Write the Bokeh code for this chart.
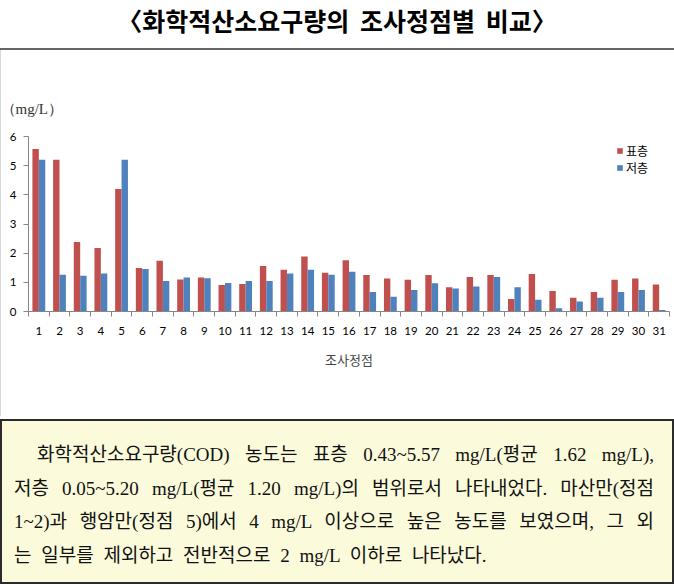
from bokeh.plotting import figure
from bokeh.models import ColumnDataSource, FixedTicker, Legend, LegendItem, Div
from bokeh.layouts import column
from bokeh.embed import file_html
from bokeh.resources import INLINE

# COD by survey station (mg/L)
stations = list(range(1, 32))
surface = [5.57, 5.20, 2.38, 2.18, 4.20, 1.49, 1.74, 1.10, 1.17, 0.91,
           0.94, 1.56, 1.43, 1.89, 1.33, 1.76, 1.25, 1.13, 1.09, 1.25,
           0.83, 1.18, 1.25, 0.43, 1.29, 0.70, 0.47, 0.67, 1.09, 1.13, 0.93]
bottom = [5.20, 1.26, 1.23, 1.30, 5.20, 1.46, 1.05, 1.17, 1.14, 0.98,
          1.05, 1.05, 1.30, 1.43, 1.26, 1.36, 0.67, 0.51, 0.74, 0.97,
          0.79, 0.86, 1.18, 0.83, 0.40, 0.11, 0.34, 0.47, 0.67, 0.74, 0.05]
y_ticks = [0, 1, 2, 3, 4, 5, 6]

RED = "#C0504D"
BLUE = "#4F81BD"
KR = "Noto Sans CJK KR"

src = ColumnDataSource(dict(
    x_s=[s - 0.155 for s in stations],
    x_b=[s + 0.155 for s in stations],
    surface=surface,
    bottom=bottom,
))

title = Div(
    text=('<div style="width:674px;height:50px;box-sizing:border-box;'
          'border-bottom:2px solid #666;text-align:center;'
          f'font-family:\'{KR}\';font-weight:bold;font-size:25px;'
          'word-spacing:5px;line-height:40px;color:#000;">'
          '〈화학적산소요구량의 조사정점별 비교〉</div>'),
    width=674, height=50, margin=(0, 0, 0, 0),
)

p = figure(width=674, height=366, x_range=(0.5, 31.5), y_range=(0, 6),
           output_backend="svg", toolbar_location=None,
           min_border_left=27, min_border_right=6,
           min_border_top=86, min_border_bottom=105,
           margin=(0, 0, 0, 0))
p.outline_line_color = None
p.xgrid.grid_line_color = None
p.ygrid.grid_line_color = None
p.styles = {"border-left": "1px solid #d8d8d8"}

r_s = p.vbar(x="x_s", top="surface", width=0.31, source=src,
             fill_color=RED, line_color=None)
r_b = p.vbar(x="x_b", top="bottom", width=0.31, source=src,
             fill_color=BLUE, line_color=None)

# y axis
p.yaxis.ticker = FixedTicker(ticks=y_ticks)
p.yaxis.axis_line_color = "#868686"
p.yaxis.major_tick_line_color = "#868686"
p.yaxis.major_tick_out = 5
p.yaxis.major_tick_in = 0
p.yaxis.minor_tick_line_color = None
p.yaxis.major_label_text_font = "Lato"
p.yaxis.major_label_text_font_size = "11.5px"
p.yaxis.major_label_text_color = "#000000"
p.yaxis.major_label_standoff = 7

# x axis: labels at stations, tick marks between categories
p.xaxis.ticker = FixedTicker(ticks=stations,
                             minor_ticks=[s + 0.5 for s in range(0, 32)])
p.xaxis.axis_line_color = "#868686"
p.xaxis.major_tick_line_color = None
p.xaxis.minor_tick_line_color = "#868686"
p.xaxis.minor_tick_out = 5
p.xaxis.minor_tick_in = 0
p.xaxis.major_label_text_font = "Lato"
p.xaxis.major_label_text_font_size = "11.5px"
p.xaxis.major_label_text_color = "#000000"
p.xaxis.major_label_standoff = 9
p.xaxis.axis_label = "조사정점"
p.xaxis.axis_label_text_font = KR
p.xaxis.axis_label_text_font_style = "normal"
p.xaxis.axis_label_text_font_size = "13px"
p.xaxis.axis_label_standoff = 12

# unit label above the y axis
p.title.text = "（mg/L）"
p.title.text_font = "Liberation Serif"
p.title.text_font_style = "normal"
p.title.text_font_size = "15px"
p.title.text_color = "#333333"
p.title.align = "left"
p.title.offset = -28
p.title.standoff = 40

legend = Legend(items=[LegendItem(label="표층", renderers=[r_s]),
                       LegendItem(label="저층", renderers=[r_b])],
                location=(588, 135))
legend.border_line_color = None
legend.background_fill_alpha = 0
legend.glyph_width = 7
legend.glyph_height = 7
legend.label_height = 13
legend.label_standoff = 3
legend.spacing = 0
legend.padding = 0
legend.margin = 0
legend.label_text_font = KR
legend.label_text_font_size = "12px"
legend.label_text_color = "#000000"
p.add_layout(legend)

lines = [
    "화학적산소요구량(COD) 농도는 표층 0.43~5.57 mg/L(평균 1.62 mg/L),",
    "저층 0.05~5.20 mg/L(평균 1.20 mg/L)의 범위로서 나타내었다. 마산만(정점",
    "1~2)과 행암만(정점 5)에서 4 mg/L 이상으로 높은 농도를 보였으며, 그 외",
    "는 일부를 제외하고 전반적으로 2 mg/L 이하로 나타났다.",
]
rows = []
for i, ln in enumerate(lines):
    last = "justify" if i < len(lines) - 1 else "left"
    indent = "23px" if i == 0 else "0"
    rows.append(f'<div style="text-align:justify;text-align-last:{last};'
                f'text-indent:{indent};white-space:nowrap;">{ln}</div>')

note = Div(
    text=('<div style="width:674px;height:165px;box-sizing:border-box;'
          'margin-top:3px;border:2px solid #2b2b2b;background:#FBFBDC;'
          'padding:17px 18px 0 12px;'
          f'font-family:\'Liberation Serif\',\'{KR}\';font-size:19px;'
          'letter-spacing:0px;word-spacing:5px;'
          'line-height:33.5px;color:#111;">' + "".join(rows) + '</div>'),
    width=674, height=171, margin=(0, 0, 0, 0),
)

layout = column(title, p, note, spacing=0)
open("out.html", "w").write(file_html(layout, INLINE))
